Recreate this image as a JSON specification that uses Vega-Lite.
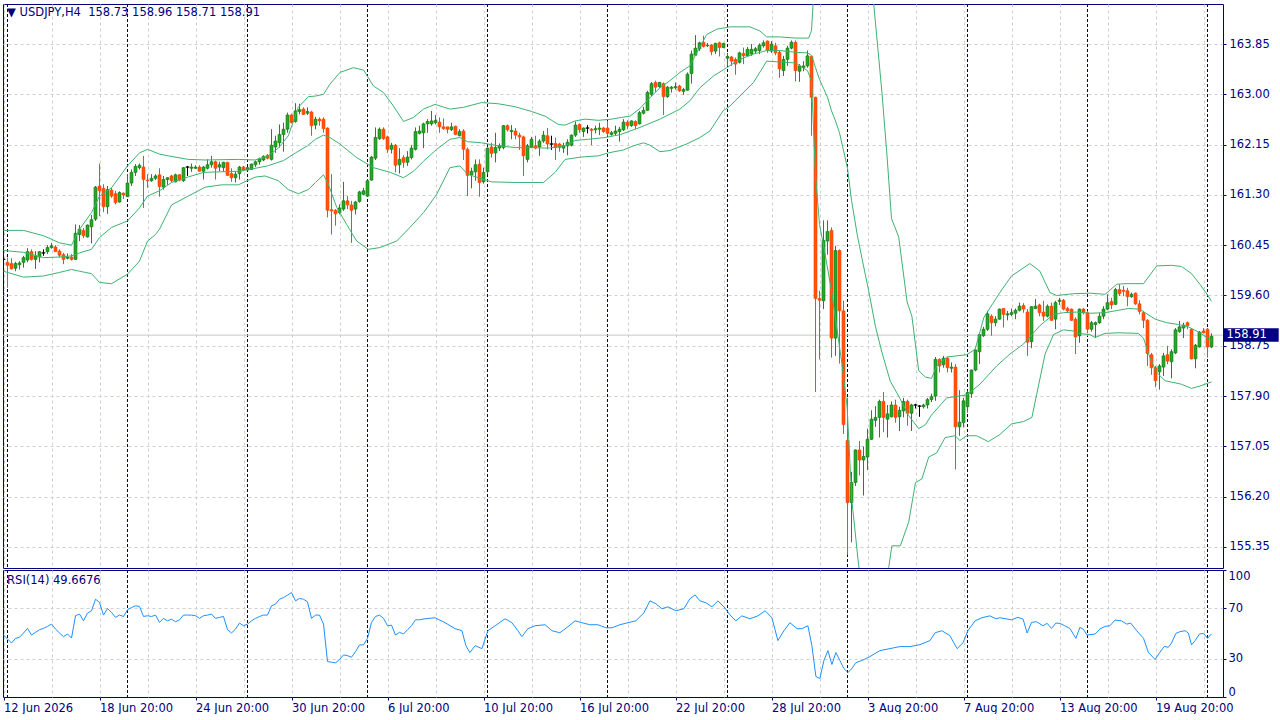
{
  "$schema": "https://vega.github.io/schema/vega-lite/v6.json",
  "background": "white",
  "padding": {"left": 1, "top": 3, "right": 0, "bottom": 0},
  "spacing": 2,
  "bounds": "flush",
  "datasets": {
    "c": [
      {"k":0,"o":160.21,"h":160.25,"l":160.17,"c":160.21},
      {"k":1,"o":160.16,"h":160.24,"l":159.73,"c":160.11},
      {"k":2,"o":160.14,"h":160.23,"l":160.04,"c":160.05},
      {"k":3,"o":160.06,"h":160.17,"l":160.01,"c":160.14},
      {"k":4,"o":160.12,"h":160.18,"l":160.04,"c":160.15},
      {"k":5,"o":160.16,"h":160.27,"l":160.07,"c":160.24},
      {"k":6,"o":160.20,"h":160.40,"l":160.16,"c":160.34},
      {"k":7,"o":160.34,"h":160.38,"l":160.19,"c":160.21},
      {"k":8,"o":160.21,"h":160.35,"l":160.05,"c":160.27},
      {"k":9,"o":160.25,"h":160.35,"l":160.16,"c":160.34},
      {"k":10,"o":160.32,"h":160.38,"l":160.27,"c":160.32},
      {"k":11,"o":160.34,"h":160.45,"l":160.30,"c":160.41},
      {"k":12,"o":160.41,"h":160.49,"l":160.39,"c":160.44},
      {"k":13,"o":160.42,"h":160.45,"l":160.34,"c":160.34},
      {"k":14,"o":160.35,"h":160.38,"l":160.24,"c":160.28},
      {"k":15,"o":160.29,"h":160.32,"l":160.13,"c":160.21},
      {"k":16,"o":160.23,"h":160.31,"l":160.21,"c":160.25},
      {"k":17,"o":160.25,"h":160.30,"l":160.19,"c":160.21},
      {"k":18,"o":160.21,"h":160.80,"l":160.20,"c":160.65},
      {"k":19,"o":160.63,"h":160.79,"l":160.52,"c":160.72},
      {"k":20,"o":160.70,"h":160.74,"l":160.57,"c":160.61},
      {"k":21,"o":160.59,"h":160.80,"l":160.58,"c":160.79},
      {"k":22,"o":160.76,"h":160.96,"l":160.48,"c":160.88},
      {"k":23,"o":160.89,"h":161.45,"l":160.86,"c":161.43},
      {"k":24,"o":161.45,"h":161.83,"l":160.94,"c":161.37},
      {"k":25,"o":161.41,"h":161.48,"l":161.01,"c":161.10},
      {"k":26,"o":161.10,"h":161.45,"l":160.98,"c":161.39},
      {"k":27,"o":161.38,"h":161.42,"l":161.25,"c":161.28},
      {"k":28,"o":161.32,"h":161.37,"l":161.14,"c":161.17},
      {"k":29,"o":161.18,"h":161.36,"l":161.17,"c":161.34},
      {"k":30,"o":161.33,"h":161.34,"l":161.23,"c":161.30},
      {"k":31,"o":161.27,"h":161.65,"l":161.27,"c":161.50},
      {"k":32,"o":161.50,"h":161.73,"l":161.45,"c":161.68},
      {"k":33,"o":161.68,"h":161.82,"l":161.62,"c":161.78},
      {"k":34,"o":161.76,"h":161.83,"l":161.73,"c":161.80},
      {"k":35,"o":161.77,"h":161.96,"l":161.08,"c":161.56},
      {"k":36,"o":161.55,"h":161.65,"l":161.42,"c":161.54},
      {"k":37,"o":161.54,"h":161.65,"l":161.52,"c":161.58},
      {"k":38,"o":161.58,"h":161.65,"l":161.55,"c":161.62},
      {"k":39,"o":161.64,"h":161.75,"l":161.27,"c":161.44},
      {"k":40,"o":161.43,"h":161.62,"l":161.39,"c":161.56},
      {"k":41,"o":161.56,"h":161.60,"l":161.47,"c":161.59},
      {"k":42,"o":161.62,"h":161.64,"l":161.51,"c":161.54},
      {"k":43,"o":161.52,"h":161.66,"l":161.51,"c":161.64},
      {"k":44,"o":161.64,"h":161.65,"l":161.53,"c":161.55},
      {"k":45,"o":161.54,"h":161.77,"l":161.52,"c":161.76},
      {"k":46,"o":161.77,"h":161.79,"l":161.62,"c":161.77},
      {"k":47,"o":161.75,"h":161.83,"l":161.69,"c":161.77},
      {"k":48,"o":161.75,"h":161.80,"l":161.74,"c":161.77},
      {"k":49,"o":161.77,"h":161.80,"l":161.69,"c":161.70},
      {"k":50,"o":161.70,"h":161.79,"l":161.56,"c":161.77},
      {"k":51,"o":161.75,"h":161.90,"l":161.73,"c":161.81},
      {"k":52,"o":161.81,"h":161.96,"l":161.76,"c":161.86},
      {"k":53,"o":161.86,"h":161.88,"l":161.56,"c":161.75},
      {"k":54,"o":161.77,"h":161.86,"l":161.70,"c":161.81},
      {"k":55,"o":161.76,"h":161.86,"l":161.69,"c":161.85},
      {"k":56,"o":161.85,"h":161.86,"l":161.62,"c":161.63},
      {"k":57,"o":161.66,"h":161.75,"l":161.52,"c":161.59},
      {"k":58,"o":161.59,"h":161.70,"l":161.51,"c":161.65},
      {"k":59,"o":161.66,"h":161.79,"l":161.56,"c":161.77},
      {"k":60,"o":161.77,"h":161.79,"l":161.70,"c":161.72},
      {"k":61,"o":161.72,"h":161.77,"l":161.71,"c":161.76},
      {"k":62,"o":161.73,"h":161.83,"l":161.72,"c":161.82},
      {"k":63,"o":161.81,"h":161.88,"l":161.77,"c":161.86},
      {"k":64,"o":161.86,"h":161.93,"l":161.81,"c":161.91},
      {"k":65,"o":161.89,"h":161.97,"l":161.87,"c":161.95},
      {"k":66,"o":161.97,"h":161.99,"l":161.90,"c":161.92},
      {"k":67,"o":161.90,"h":162.41,"l":161.88,"c":162.14},
      {"k":68,"o":162.11,"h":162.30,"l":162.01,"c":162.21},
      {"k":69,"o":162.18,"h":162.49,"l":162.10,"c":162.32},
      {"k":70,"o":162.32,"h":162.52,"l":162.03,"c":162.41},
      {"k":71,"o":162.41,"h":162.69,"l":162.35,"c":162.65},
      {"k":72,"o":162.65,"h":162.67,"l":162.51,"c":162.52},
      {"k":73,"o":162.54,"h":162.85,"l":162.52,"c":162.72},
      {"k":74,"o":162.71,"h":162.84,"l":162.66,"c":162.74},
      {"k":75,"o":162.75,"h":162.78,"l":162.65,"c":162.66},
      {"k":76,"o":162.68,"h":162.78,"l":162.65,"c":162.71},
      {"k":77,"o":162.70,"h":162.72,"l":162.30,"c":162.47},
      {"k":78,"o":162.48,"h":162.62,"l":162.41,"c":162.58},
      {"k":79,"o":162.58,"h":162.61,"l":162.47,"c":162.55},
      {"k":80,"o":162.58,"h":162.61,"l":162.35,"c":162.42},
      {"k":81,"o":162.43,"h":162.44,"l":160.92,"c":161.04},
      {"k":82,"o":161.05,"h":161.65,"l":160.63,"c":161.03},
      {"k":83,"o":161.04,"h":161.06,"l":160.78,"c":160.98},
      {"k":84,"o":161.00,"h":161.14,"l":160.97,"c":161.08},
      {"k":85,"o":161.06,"h":161.52,"l":161.03,"c":161.20},
      {"k":86,"o":161.20,"h":161.28,"l":161.06,"c":161.13},
      {"k":87,"o":161.13,"h":161.20,"l":160.49,"c":161.04},
      {"k":88,"o":161.06,"h":161.20,"l":160.97,"c":161.18},
      {"k":89,"o":161.19,"h":161.37,"l":161.17,"c":161.35},
      {"k":90,"o":161.31,"h":161.42,"l":161.30,"c":161.37},
      {"k":91,"o":161.28,"h":161.56,"l":161.27,"c":161.54},
      {"k":92,"o":161.55,"h":161.96,"l":161.54,"c":161.94},
      {"k":93,"o":161.92,"h":162.44,"l":161.89,"c":162.27},
      {"k":94,"o":162.25,"h":162.44,"l":162.23,"c":162.41},
      {"k":95,"o":162.41,"h":162.44,"l":162.23,"c":162.25},
      {"k":96,"o":162.28,"h":162.30,"l":162.01,"c":162.07},
      {"k":97,"o":162.07,"h":162.18,"l":162.00,"c":162.14},
      {"k":98,"o":162.14,"h":162.16,"l":161.68,"c":161.80},
      {"k":99,"o":161.81,"h":162.09,"l":161.66,"c":161.90},
      {"k":100,"o":161.93,"h":161.97,"l":161.76,"c":161.85},
      {"k":101,"o":161.85,"h":162.04,"l":161.79,"c":161.94},
      {"k":102,"o":161.93,"h":162.14,"l":161.90,"c":162.09},
      {"k":103,"o":162.07,"h":162.44,"l":162.05,"c":162.37},
      {"k":104,"o":162.34,"h":162.47,"l":162.32,"c":162.38},
      {"k":105,"o":162.35,"h":162.52,"l":162.09,"c":162.50},
      {"k":106,"o":162.50,"h":162.58,"l":162.35,"c":162.54},
      {"k":107,"o":162.50,"h":162.72,"l":162.47,"c":162.55},
      {"k":108,"o":162.52,"h":162.65,"l":162.49,"c":162.56},
      {"k":109,"o":162.53,"h":162.61,"l":162.35,"c":162.45},
      {"k":110,"o":162.45,"h":162.59,"l":162.40,"c":162.42},
      {"k":111,"o":162.45,"h":162.45,"l":162.34,"c":162.41},
      {"k":112,"o":162.40,"h":162.52,"l":162.38,"c":162.45},
      {"k":113,"o":162.46,"h":162.47,"l":162.31,"c":162.32},
      {"k":114,"o":162.30,"h":162.41,"l":162.29,"c":162.37},
      {"k":115,"o":162.38,"h":162.41,"l":161.89,"c":162.07},
      {"k":116,"o":162.07,"h":162.10,"l":161.28,"c":161.63},
      {"k":117,"o":161.64,"h":161.76,"l":161.41,"c":161.70},
      {"k":118,"o":161.69,"h":161.90,"l":161.54,"c":161.81},
      {"k":119,"o":161.82,"h":161.90,"l":161.27,"c":161.51},
      {"k":120,"o":161.52,"h":161.76,"l":161.49,"c":161.68},
      {"k":121,"o":161.69,"h":162.10,"l":161.65,"c":162.09},
      {"k":122,"o":162.11,"h":162.18,"l":161.93,"c":162.00},
      {"k":123,"o":162.01,"h":162.35,"l":161.85,"c":162.10},
      {"k":124,"o":162.09,"h":162.17,"l":162.04,"c":162.13},
      {"k":125,"o":162.10,"h":162.48,"l":162.07,"c":162.47},
      {"k":126,"o":162.47,"h":162.49,"l":162.37,"c":162.40},
      {"k":127,"o":162.37,"h":162.48,"l":162.24,"c":162.39},
      {"k":128,"o":162.38,"h":162.43,"l":162.24,"c":162.31},
      {"k":129,"o":162.31,"h":162.35,"l":162.06,"c":162.28},
      {"k":130,"o":162.28,"h":162.30,"l":161.62,"c":161.96},
      {"k":131,"o":161.90,"h":162.16,"l":161.85,"c":162.13},
      {"k":132,"o":162.11,"h":162.28,"l":162.09,"c":162.24},
      {"k":133,"o":162.13,"h":162.30,"l":162.07,"c":162.09},
      {"k":134,"o":162.11,"h":162.24,"l":161.96,"c":162.21},
      {"k":135,"o":162.21,"h":162.38,"l":162.18,"c":162.31},
      {"k":136,"o":162.30,"h":162.43,"l":162.07,"c":162.16},
      {"k":137,"o":162.16,"h":162.30,"l":162.06,"c":162.16},
      {"k":138,"o":162.17,"h":162.27,"l":161.89,"c":162.10},
      {"k":139,"o":162.16,"h":162.18,"l":162.03,"c":162.10},
      {"k":140,"o":162.09,"h":162.18,"l":162.01,"c":162.13},
      {"k":141,"o":162.13,"h":162.24,"l":161.97,"c":162.19},
      {"k":142,"o":162.14,"h":162.32,"l":162.12,"c":162.31},
      {"k":143,"o":162.31,"h":162.54,"l":162.28,"c":162.48},
      {"k":144,"o":162.49,"h":162.51,"l":162.35,"c":162.40},
      {"k":145,"o":162.37,"h":162.44,"l":162.28,"c":162.43},
      {"k":146,"o":162.43,"h":162.48,"l":162.34,"c":162.43},
      {"k":147,"o":162.41,"h":162.43,"l":162.14,"c":162.39},
      {"k":148,"o":162.40,"h":162.47,"l":162.34,"c":162.42},
      {"k":149,"o":162.41,"h":162.52,"l":162.31,"c":162.43},
      {"k":150,"o":162.43,"h":162.45,"l":162.35,"c":162.37},
      {"k":151,"o":162.43,"h":162.55,"l":162.30,"c":162.34},
      {"k":152,"o":162.32,"h":162.38,"l":162.30,"c":162.35},
      {"k":153,"o":162.34,"h":162.47,"l":162.30,"c":162.38},
      {"k":154,"o":162.37,"h":162.45,"l":162.20,"c":162.41},
      {"k":155,"o":162.40,"h":162.58,"l":162.38,"c":162.53},
      {"k":156,"o":162.53,"h":162.56,"l":162.41,"c":162.47},
      {"k":157,"o":162.47,"h":162.56,"l":162.45,"c":162.55},
      {"k":158,"o":162.54,"h":162.56,"l":162.41,"c":162.47},
      {"k":159,"o":162.50,"h":162.72,"l":162.49,"c":162.69},
      {"k":160,"o":162.68,"h":162.79,"l":162.66,"c":162.73},
      {"k":161,"o":162.73,"h":163.06,"l":162.72,"c":163.03},
      {"k":162,"o":163.00,"h":163.21,"l":162.97,"c":163.18},
      {"k":163,"o":163.20,"h":163.23,"l":163.04,"c":163.12},
      {"k":164,"o":163.13,"h":163.21,"l":163.11,"c":163.20},
      {"k":165,"o":163.18,"h":163.20,"l":162.65,"c":162.96},
      {"k":166,"o":162.96,"h":163.14,"l":162.94,"c":163.12},
      {"k":167,"o":163.10,"h":163.14,"l":163.03,"c":163.12},
      {"k":168,"o":163.11,"h":163.20,"l":163.08,"c":163.13},
      {"k":169,"o":163.14,"h":163.16,"l":163.04,"c":163.06},
      {"k":170,"o":163.05,"h":163.11,"l":162.99,"c":163.08},
      {"k":171,"o":163.07,"h":163.37,"l":163.06,"c":163.34},
      {"k":172,"o":163.35,"h":163.74,"l":163.18,"c":163.68},
      {"k":173,"o":163.66,"h":164.00,"l":163.66,"c":163.78},
      {"k":174,"o":163.77,"h":163.89,"l":163.73,"c":163.87},
      {"k":175,"o":163.88,"h":163.99,"l":163.79,"c":163.81},
      {"k":176,"o":163.82,"h":163.87,"l":163.80,"c":163.83},
      {"k":177,"o":163.83,"h":163.85,"l":163.66,"c":163.72},
      {"k":178,"o":163.73,"h":163.87,"l":163.68,"c":163.86},
      {"k":179,"o":163.87,"h":163.89,"l":163.64,"c":163.79},
      {"k":180,"o":163.79,"h":163.87,"l":163.78,"c":163.86},
      {"k":181,"o":163.61,"h":163.70,"l":163.48,"c":163.64},
      {"k":182,"o":163.63,"h":163.65,"l":163.48,"c":163.56},
      {"k":183,"o":163.59,"h":163.62,"l":163.33,"c":163.51},
      {"k":184,"o":163.54,"h":163.72,"l":163.52,"c":163.70},
      {"k":185,"o":163.69,"h":163.79,"l":163.51,"c":163.65},
      {"k":186,"o":163.65,"h":163.80,"l":163.65,"c":163.76},
      {"k":187,"o":163.68,"h":163.85,"l":163.65,"c":163.76},
      {"k":188,"o":163.73,"h":163.80,"l":163.68,"c":163.77},
      {"k":189,"o":163.74,"h":163.86,"l":163.68,"c":163.83},
      {"k":190,"o":163.82,"h":163.91,"l":163.79,"c":163.87},
      {"k":191,"o":163.90,"h":163.91,"l":163.70,"c":163.74},
      {"k":192,"o":163.73,"h":163.90,"l":163.70,"c":163.85},
      {"k":193,"o":163.82,"h":163.87,"l":163.66,"c":163.70},
      {"k":194,"o":163.71,"h":163.74,"l":163.28,"c":163.43},
      {"k":195,"o":163.40,"h":163.65,"l":163.31,"c":163.59},
      {"k":196,"o":163.59,"h":163.82,"l":163.48,"c":163.78},
      {"k":197,"o":163.78,"h":163.91,"l":163.76,"c":163.88},
      {"k":198,"o":163.88,"h":163.91,"l":163.22,"c":163.40},
      {"k":199,"o":163.39,"h":163.51,"l":163.21,"c":163.48},
      {"k":200,"o":163.45,"h":163.56,"l":163.39,"c":163.48},
      {"k":201,"o":163.48,"h":163.74,"l":163.45,"c":163.65},
      {"k":202,"o":163.64,"h":163.65,"l":162.30,"c":162.95},
      {"k":203,"o":162.95,"h":162.96,"l":157.97,"c":159.55},
      {"k":204,"o":159.55,"h":159.68,"l":158.52,"c":159.52},
      {"k":205,"o":159.51,"h":160.87,"l":159.37,"c":160.53},
      {"k":206,"o":160.52,"h":160.87,"l":160.29,"c":160.68},
      {"k":207,"o":160.70,"h":160.75,"l":158.55,"c":158.88},
      {"k":208,"o":158.88,"h":160.44,"l":158.58,"c":160.36},
      {"k":209,"o":160.36,"h":160.38,"l":158.45,"c":159.34},
      {"k":210,"o":159.34,"h":159.51,"l":157.26,"c":157.42},
      {"k":211,"o":157.15,"h":157.87,"l":155.22,"c":156.10},
      {"k":212,"o":156.10,"h":156.62,"l":155.43,"c":156.44},
      {"k":213,"o":156.44,"h":157.00,"l":156.38,"c":156.99},
      {"k":214,"o":156.99,"h":157.14,"l":156.56,"c":156.82},
      {"k":215,"o":156.82,"h":157.05,"l":156.22,"c":156.88},
      {"k":216,"o":156.87,"h":157.35,"l":156.65,"c":157.17},
      {"k":217,"o":157.17,"h":157.66,"l":157.16,"c":157.51},
      {"k":218,"o":157.49,"h":157.73,"l":157.38,"c":157.54},
      {"k":219,"o":157.54,"h":157.84,"l":157.20,"c":157.81},
      {"k":220,"o":157.81,"h":157.97,"l":157.29,"c":157.54},
      {"k":221,"o":157.51,"h":157.75,"l":157.20,"c":157.60},
      {"k":222,"o":157.55,"h":157.81,"l":157.54,"c":157.75},
      {"k":223,"o":157.75,"h":157.84,"l":157.45,"c":157.54},
      {"k":224,"o":157.55,"h":157.72,"l":157.31,"c":157.66},
      {"k":225,"o":157.65,"h":157.87,"l":157.54,"c":157.81},
      {"k":226,"o":157.81,"h":157.84,"l":157.40,"c":157.61},
      {"k":227,"o":157.61,"h":157.77,"l":157.31,"c":157.75},
      {"k":228,"o":157.75,"h":157.77,"l":157.69,"c":157.75},
      {"k":229,"o":157.73,"h":157.75,"l":157.55,"c":157.73},
      {"k":230,"o":157.72,"h":157.77,"l":157.69,"c":157.75},
      {"k":231,"o":157.75,"h":157.87,"l":157.69,"c":157.84},
      {"k":232,"o":157.84,"h":157.94,"l":157.80,"c":157.89},
      {"k":233,"o":157.90,"h":158.56,"l":157.82,"c":158.52},
      {"k":234,"o":158.52,"h":158.54,"l":158.30,"c":158.41},
      {"k":235,"o":158.43,"h":158.58,"l":158.38,"c":158.54},
      {"k":236,"o":158.54,"h":158.56,"l":158.30,"c":158.38},
      {"k":237,"o":158.37,"h":158.47,"l":158.30,"c":158.39},
      {"k":238,"o":158.39,"h":158.44,"l":156.66,"c":157.38},
      {"k":239,"o":157.38,"h":158.00,"l":157.23,"c":157.46},
      {"k":240,"o":157.45,"h":157.87,"l":157.37,"c":157.82},
      {"k":241,"o":157.72,"h":157.99,"l":157.62,"c":157.96},
      {"k":242,"o":157.94,"h":158.35,"l":157.87,"c":158.34},
      {"k":243,"o":158.34,"h":158.69,"l":158.32,"c":158.68},
      {"k":244,"o":158.65,"h":158.97,"l":158.44,"c":158.94},
      {"k":245,"o":158.92,"h":159.07,"l":158.90,"c":159.03},
      {"k":246,"o":159.03,"h":159.34,"l":159.00,"c":159.29},
      {"k":247,"o":159.25,"h":159.28,"l":158.92,"c":159.14},
      {"k":248,"o":159.14,"h":159.25,"l":159.08,"c":159.20},
      {"k":249,"o":159.20,"h":159.38,"l":159.19,"c":159.37},
      {"k":250,"o":159.38,"h":159.39,"l":159.06,"c":159.28},
      {"k":251,"o":159.27,"h":159.34,"l":159.18,"c":159.29},
      {"k":252,"o":159.28,"h":159.38,"l":159.25,"c":159.31},
      {"k":253,"o":159.30,"h":159.38,"l":159.20,"c":159.35},
      {"k":254,"o":159.35,"h":159.48,"l":159.33,"c":159.42},
      {"k":255,"o":159.43,"h":159.47,"l":159.31,"c":159.37},
      {"k":256,"o":159.32,"h":159.37,"l":158.58,"c":158.81},
      {"k":257,"o":158.82,"h":159.42,"l":158.71,"c":159.41},
      {"k":258,"o":159.38,"h":159.54,"l":159.37,"c":159.42},
      {"k":259,"o":159.44,"h":159.46,"l":159.25,"c":159.31},
      {"k":260,"o":159.32,"h":159.51,"l":159.17,"c":159.25},
      {"k":261,"o":159.25,"h":159.45,"l":159.23,"c":159.42},
      {"k":262,"o":159.42,"h":159.48,"l":159.17,"c":159.18},
      {"k":263,"o":159.20,"h":159.51,"l":159.03,"c":159.48},
      {"k":264,"o":159.50,"h":159.56,"l":159.44,"c":159.52},
      {"k":265,"o":159.52,"h":159.54,"l":159.35,"c":159.37},
      {"k":266,"o":159.38,"h":159.41,"l":159.31,"c":159.34},
      {"k":267,"o":159.37,"h":159.38,"l":159.17,"c":159.18},
      {"k":268,"o":159.20,"h":159.23,"l":158.61,"c":158.90},
      {"k":269,"o":158.92,"h":159.38,"l":158.80,"c":159.37},
      {"k":270,"o":159.37,"h":159.39,"l":159.28,"c":159.31},
      {"k":271,"o":159.31,"h":159.34,"l":158.96,"c":159.03},
      {"k":272,"o":159.03,"h":159.17,"l":158.99,"c":159.14},
      {"k":273,"o":159.11,"h":159.16,"l":158.88,"c":159.14},
      {"k":274,"o":159.14,"h":159.31,"l":159.12,"c":159.25},
      {"k":275,"o":159.25,"h":159.42,"l":159.20,"c":159.37},
      {"k":276,"o":159.37,"h":159.62,"l":159.35,"c":159.48},
      {"k":277,"o":159.50,"h":159.56,"l":159.37,"c":159.44},
      {"k":278,"o":159.45,"h":159.73,"l":159.44,"c":159.70},
      {"k":279,"o":159.70,"h":159.79,"l":159.59,"c":159.63},
      {"k":280,"o":159.69,"h":159.76,"l":159.59,"c":159.67},
      {"k":281,"o":159.68,"h":159.73,"l":159.42,"c":159.58},
      {"k":282,"o":159.58,"h":159.65,"l":159.56,"c":159.62},
      {"k":283,"o":159.64,"h":159.65,"l":159.44,"c":159.46},
      {"k":284,"o":159.46,"h":159.52,"l":159.28,"c":159.33},
      {"k":285,"o":159.31,"h":159.34,"l":159.05,"c":159.18},
      {"k":286,"o":159.18,"h":159.20,"l":158.41,"c":158.62},
      {"k":287,"o":158.60,"h":158.63,"l":158.26,"c":158.38},
      {"k":288,"o":158.38,"h":158.41,"l":158.05,"c":158.16},
      {"k":289,"o":158.31,"h":158.44,"l":158.01,"c":158.41},
      {"k":290,"o":158.39,"h":158.63,"l":158.24,"c":158.58},
      {"k":291,"o":158.60,"h":158.75,"l":158.44,"c":158.49},
      {"k":292,"o":158.48,"h":158.69,"l":158.20,"c":158.65},
      {"k":293,"o":158.63,"h":159.05,"l":158.61,"c":159.02},
      {"k":294,"o":158.99,"h":159.17,"l":158.97,"c":159.07},
      {"k":295,"o":159.05,"h":159.14,"l":158.88,"c":159.10},
      {"k":296,"o":159.14,"h":159.16,"l":159.03,"c":159.09},
      {"k":297,"o":159.03,"h":159.05,"l":158.52,"c":158.53},
      {"k":298,"o":158.53,"h":158.78,"l":158.37,"c":158.76},
      {"k":299,"o":158.73,"h":159.00,"l":158.72,"c":158.98},
      {"k":300,"o":159.00,"h":159.05,"l":158.96,"c":158.97},
      {"k":301,"o":159.03,"h":159.05,"l":158.55,"c":158.73},
      {"k":302,"o":158.73,"h":158.96,"l":158.71,"c":158.91}
    ],
    "b": [
      {"g":"u","k":0,"v":160.70},{"g":"u","k":5,"v":160.70},{"g":"u","k":10,"v":160.61},{"g":"u","k":14,"v":160.49},
      {"g":"u","k":17,"v":160.45},{"g":"u","k":19,"v":160.72},{"g":"u","k":22,"v":161.00},{"g":"u","k":24,"v":161.28},
      {"g":"u","k":27,"v":161.42},{"g":"u","k":31,"v":161.79},{"g":"u","k":34,"v":162.01},{"g":"u","k":36,"v":162.07},
      {"g":"u","k":39,"v":161.99},{"g":"u","k":41.2,"v":161.96},{"g":"u","k":46.2,"v":161.90},{"g":"u","k":50.4,"v":161.89},
      {"g":"u","k":58.7,"v":161.90},{"g":"u","k":62.9,"v":161.89},{"g":"u","k":66.2,"v":161.96},{"g":"u","k":68.7,"v":162.09},
      {"g":"u","k":71.2,"v":162.30},{"g":"u","k":73.7,"v":162.78},{"g":"u","k":76.2,"v":162.96},{"g":"u","k":78,"v":162.97},
      {"g":"u","k":80,"v":163.00},{"g":"u","k":81.6,"v":163.17},{"g":"u","k":84.1,"v":163.37},{"g":"u","k":87.5,"v":163.45},
      {"g":"u","k":90,"v":163.41},{"g":"u","k":92.5,"v":163.14},{"g":"u","k":95,"v":163.03},{"g":"u","k":97.5,"v":162.80},
      {"g":"u","k":100,"v":162.54},{"g":"u","k":102.5,"v":162.61},{"g":"u","k":105,"v":162.75},{"g":"u","k":107.9,"v":162.83},
      {"g":"u","k":111.6,"v":162.75},{"g":"u","k":115,"v":162.78},{"g":"u","k":119.5,"v":162.86},{"g":"u","k":123.7,"v":162.84},
      {"g":"u","k":127.9,"v":162.79},{"g":"u","k":132,"v":162.71},{"g":"u","k":135.4,"v":162.63},{"g":"u","k":138.7,"v":162.49},
      {"g":"u","k":140.4,"v":162.48},{"g":"u","k":142.9,"v":162.55},{"g":"u","k":145.4,"v":162.58},{"g":"u","k":148.7,"v":162.56},
      {"g":"u","k":152,"v":162.58},{"g":"u","k":154.5,"v":162.61},{"g":"u","k":156.6,"v":162.63},{"g":"u","k":159.1,"v":162.76},
      {"g":"u","k":161.6,"v":162.94},{"g":"u","k":164.1,"v":163.11},{"g":"u","k":166.6,"v":163.23},{"g":"u","k":169.1,"v":163.37},
      {"g":"u","k":171.6,"v":163.48},{"g":"u","k":173.3,"v":163.70},{"g":"u","k":175.8,"v":164.01},{"g":"u","k":178.3,"v":164.10},
      {"g":"u","k":181.6,"v":164.14},{"g":"u","k":186.6,"v":164.14},{"g":"u","k":189.1,"v":164.07},{"g":"u","k":190.8,"v":163.97},
      {"g":"u","k":194,"v":163.97},{"g":"u","k":198,"v":163.95},{"g":"u","k":201.3,"v":163.95},{"g":"u","k":202,"v":164.08},
      {"g":"u","k":203,"v":165.2},{"g":"u","k":205,"v":165.9},{"g":"u","k":207,"v":166.1},{"g":"u","k":209,"v":166.2},
      {"g":"u","k":211,"v":166.5},{"g":"u","k":213,"v":166.4},{"g":"u","k":215,"v":165.8},{"g":"u","k":216.5,"v":165.2},
      {"g":"u","k":217.5,"v":164.57},{"g":"u","k":218,"v":164.20},{"g":"u","k":219.6,"v":163.04},{"g":"u","k":220.9,"v":161.94},
      {"g":"u","k":222,"v":160.90},{"g":"u","k":223.8,"v":160.59},{"g":"u","k":225.9,"v":159.49},{"g":"u","k":227.1,"v":159.25},
      {"g":"u","k":228.8,"v":158.33},{"g":"u","k":230.5,"v":158.22},{"g":"u","k":232,"v":158.20},{"g":"u","k":233.3,"v":158.41},
      {"g":"u","k":235.8,"v":158.56},{"g":"u","k":240.8,"v":158.60},{"g":"u","k":242.9,"v":158.69},{"g":"u","k":245.1,"v":159.23},
      {"g":"u","k":249.1,"v":159.65},{"g":"u","k":252,"v":159.93},{"g":"u","k":256.6,"v":160.14},{"g":"u","k":259.1,"v":160.01},
      {"g":"u","k":261.6,"v":159.65},{"g":"u","k":263.3,"v":159.60},{"g":"u","k":267.5,"v":159.63},{"g":"u","k":271.6,"v":159.64},
      {"g":"u","k":275.4,"v":159.62},{"g":"u","k":278.3,"v":159.79},{"g":"u","k":280.4,"v":159.80},{"g":"u","k":285,"v":159.80},
      {"g":"u","k":288.3,"v":160.10},{"g":"u","k":292,"v":160.11},{"g":"u","k":294.5,"v":160.09},{"g":"u","k":297,"v":159.97},
      {"g":"u","k":299.1,"v":159.79},{"g":"u","k":301.2,"v":159.59},{"g":"u","k":302,"v":159.50},
      {"g":"m","k":0,"v":160.36},{"g":"m","k":5,"v":160.33},{"g":"m","k":10,"v":160.24},{"g":"m","k":14,"v":160.25},
      {"g":"m","k":17,"v":160.27},{"g":"m","k":19,"v":160.32},{"g":"m","k":22,"v":160.38},{"g":"m","k":24,"v":160.58},
      {"g":"m","k":27,"v":160.75},{"g":"m","k":31,"v":160.86},{"g":"m","k":34,"v":161.08},{"g":"m","k":36,"v":161.28},
      {"g":"m","k":39,"v":161.37},{"g":"m","k":42,"v":161.51},{"g":"m","k":46,"v":161.60},{"g":"m","k":50,"v":161.68},
      {"g":"m","k":54,"v":161.69},{"g":"m","k":59,"v":161.70},{"g":"m","k":63,"v":161.75},{"g":"m","k":66,"v":161.79},
      {"g":"m","k":70,"v":161.88},{"g":"m","k":73,"v":162.01},{"g":"m","k":76,"v":162.13},{"g":"m","k":78,"v":162.24},
      {"g":"m","k":80,"v":162.31},{"g":"m","k":81.6,"v":162.27},{"g":"m","k":84.1,"v":162.16},{"g":"m","k":88.3,"v":161.93},
      {"g":"m","k":92.5,"v":161.76},{"g":"m","k":96.7,"v":161.68},{"g":"m","k":100,"v":161.59},{"g":"m","k":102.5,"v":161.70},
      {"g":"m","k":105,"v":161.87},{"g":"m","k":108.3,"v":162.07},{"g":"m","k":111.6,"v":162.24},{"g":"m","k":114.1,"v":162.27},
      {"g":"m","k":116,"v":162.20},{"g":"m","k":119.5,"v":162.18},{"g":"m","k":123.7,"v":162.13},{"g":"m","k":127.9,"v":162.10},
      {"g":"m","k":132,"v":162.10},{"g":"m","k":136.2,"v":162.09},{"g":"m","k":140.4,"v":162.13},{"g":"m","k":142.9,"v":162.22},
      {"g":"m","k":146.2,"v":162.24},{"g":"m","k":150.4,"v":162.27},{"g":"m","k":154.3,"v":162.32},{"g":"m","k":159.1,"v":162.44},
      {"g":"m","k":164.1,"v":162.58},{"g":"m","k":169.1,"v":162.75},{"g":"m","k":171.6,"v":162.89},{"g":"m","k":174.1,"v":163.11},
      {"g":"m","k":177.5,"v":163.31},{"g":"m","k":180.8,"v":163.45},{"g":"m","k":184.1,"v":163.59},{"g":"m","k":187.5,"v":163.68},
      {"g":"m","k":190.8,"v":163.74},{"g":"m","k":194,"v":163.74},{"g":"m","k":198,"v":163.71},{"g":"m","k":201,"v":163.70},
      {"g":"m","k":202,"v":163.66},{"g":"m","k":203,"v":163.45},{"g":"m","k":204,"v":163.25},{"g":"m","k":205,"v":163.10},
      {"g":"m","k":206,"v":162.95},{"g":"m","k":207,"v":162.72},{"g":"m","k":208,"v":162.55},{"g":"m","k":209,"v":162.35},
      {"g":"m","k":210,"v":162.05},{"g":"m","k":211,"v":161.75},{"g":"m","k":212,"v":161.21},{"g":"m","k":213.5,"v":160.60},
      {"g":"m","k":215,"v":160.10},{"g":"m","k":216.3,"v":159.68},{"g":"m","k":218,"v":159.07},{"g":"m","k":219.6,"v":158.64},
      {"g":"m","k":221.7,"v":158.15},{"g":"m","k":223.8,"v":157.90},{"g":"m","k":226.3,"v":157.57},{"g":"m","k":228.8,"v":157.35},
      {"g":"m","k":230.5,"v":157.42},{"g":"m","k":232,"v":157.58},{"g":"m","k":235.8,"v":157.87},{"g":"m","k":240.8,"v":157.92},
      {"g":"m","k":244.1,"v":158.10},{"g":"m","k":248.3,"v":158.41},{"g":"m","k":251.6,"v":158.61},{"g":"m","k":255,"v":158.78},
      {"g":"m","k":259.1,"v":159.09},{"g":"m","k":262.5,"v":159.28},{"g":"m","k":265,"v":159.31},{"g":"m","k":268.3,"v":159.32},
      {"g":"m","k":271.6,"v":159.30},{"g":"m","k":275.4,"v":159.31},{"g":"m","k":278.7,"v":159.35},{"g":"m","k":281.2,"v":159.38},
      {"g":"m","k":284.1,"v":159.37},{"g":"m","k":285.4,"v":159.31},{"g":"m","k":287.9,"v":159.20},{"g":"m","k":290.8,"v":159.14},
      {"g":"m","k":293.7,"v":159.11},{"g":"m","k":296.2,"v":159.07},{"g":"m","k":299.1,"v":158.97},{"g":"m","k":302,"v":158.84},
      {"g":"l","k":0,"v":160.01},{"g":"l","k":5,"v":159.91},{"g":"l","k":10,"v":159.93},{"g":"l","k":14,"v":159.99},
      {"g":"l","k":17,"v":160.04},{"g":"l","k":19,"v":160.01},{"g":"l","k":22,"v":159.97},{"g":"l","k":24,"v":159.82},
      {"g":"l","k":27,"v":159.80},{"g":"l","k":31,"v":159.96},{"g":"l","k":34,"v":160.18},{"g":"l","k":36,"v":160.52},
      {"g":"l","k":38,"v":160.63},{"g":"l","k":39,"v":160.72},{"g":"l","k":42,"v":161.13},{"g":"l","k":46.2,"v":161.28},
      {"g":"l","k":50.4,"v":161.43},{"g":"l","k":54.5,"v":161.47},{"g":"l","k":58.7,"v":161.47},{"g":"l","k":62.9,"v":161.60},
      {"g":"l","k":65.4,"v":161.62},{"g":"l","k":68.7,"v":161.54},{"g":"l","k":71.2,"v":161.39},{"g":"l","k":73.7,"v":161.32},
      {"g":"l","k":76.2,"v":161.39},{"g":"l","k":78,"v":161.51},{"g":"l","k":80,"v":161.64},{"g":"l","k":81.2,"v":161.48},
      {"g":"l","k":83.3,"v":161.09},{"g":"l","k":85.8,"v":160.80},{"g":"l","k":88.3,"v":160.52},{"g":"l","k":91.2,"v":160.38},
      {"g":"l","k":94.1,"v":160.41},{"g":"l","k":98.3,"v":160.52},{"g":"l","k":101.6,"v":160.75},{"g":"l","k":105,"v":161.00},
      {"g":"l","k":108.3,"v":161.31},{"g":"l","k":111.6,"v":161.76},{"g":"l","k":114.1,"v":161.79},{"g":"l","k":116,"v":161.65},
      {"g":"l","k":122,"v":161.52},{"g":"l","k":127.9,"v":161.51},{"g":"l","k":135,"v":161.51},{"g":"l","k":137.9,"v":161.68},
      {"g":"l","k":140.4,"v":161.90},{"g":"l","k":144.5,"v":161.94},{"g":"l","k":148.7,"v":161.96},{"g":"l","k":151.2,"v":162.01},
      {"g":"l","k":155,"v":162.06},{"g":"l","k":157.5,"v":162.13},{"g":"l","k":160,"v":162.18},{"g":"l","k":161.6,"v":162.14},
      {"g":"l","k":164.1,"v":162.03},{"g":"l","k":166.6,"v":162.05},{"g":"l","k":170.8,"v":162.16},{"g":"l","k":174.1,"v":162.27},
      {"g":"l","k":176.6,"v":162.38},{"g":"l","k":179.9,"v":162.72},{"g":"l","k":181.6,"v":162.80},{"g":"l","k":184.1,"v":162.97},
      {"g":"l","k":187.5,"v":163.20},{"g":"l","k":190.8,"v":163.56},{"g":"l","k":193.3,"v":163.55},{"g":"l","k":198,"v":163.53},
      {"g":"l","k":201,"v":163.40},{"g":"l","k":202,"v":163.22},{"g":"l","k":203,"v":161.63},{"g":"l","k":204,"v":160.80},
      {"g":"l","k":205,"v":160.45},{"g":"l","k":207,"v":159.68},{"g":"l","k":209.6,"v":158.45},{"g":"l","k":210.9,"v":157.72},
      {"g":"l","k":212.1,"v":156.13},{"g":"l","k":213.8,"v":155.03},{"g":"l","k":215,"v":154.6},{"g":"l","k":217,"v":154.3},
      {"g":"l","k":219,"v":154.4},{"g":"l","k":220.5,"v":154.8},{"g":"l","k":221.3,"v":155.00},{"g":"l","k":222.1,"v":155.37},
      {"g":"l","k":224.2,"v":155.37},{"g":"l","k":226.3,"v":155.77},{"g":"l","k":228,"v":156.44},{"g":"l","k":229.6,"v":156.50},
      {"g":"l","k":231.3,"v":156.87},{"g":"l","k":233.3,"v":156.94},{"g":"l","k":235.4,"v":157.20},{"g":"l","k":237.9,"v":157.23},
      {"g":"l","k":239.1,"v":157.15},{"g":"l","k":240.8,"v":157.23},{"g":"l","k":243.3,"v":157.23},{"g":"l","k":246.2,"v":157.13},
      {"g":"l","k":249.1,"v":157.25},{"g":"l","k":252,"v":157.43},{"g":"l","k":255,"v":157.47},{"g":"l","k":257.1,"v":157.54},
      {"g":"l","k":258.3,"v":157.93},{"g":"l","k":260.4,"v":158.61},{"g":"l","k":262.5,"v":158.94},{"g":"l","k":265,"v":159.02},
      {"g":"l","k":267.5,"v":159.00},{"g":"l","k":268.3,"v":158.96},{"g":"l","k":271.6,"v":158.94},{"g":"l","k":272.9,"v":158.89},
      {"g":"l","k":275.4,"v":158.96},{"g":"l","k":278.7,"v":158.97},{"g":"l","k":283.7,"v":158.96},{"g":"l","k":285,"v":158.88},
      {"g":"l","k":286.6,"v":158.55},{"g":"l","k":288.3,"v":158.30},{"g":"l","k":290.4,"v":158.16},{"g":"l","k":294.5,"v":158.10},
      {"g":"l","k":297,"v":158.03},{"g":"l","k":299.1,"v":158.07},{"g":"l","k":302,"v":158.14}
    ],
    "r": [
      {"k":0,"r":48.8},{"k":1,"r":45.7},{"k":2,"r":42.5},{"k":3,"r":46.2},{"k":4,"r":47.0},{"k":5,"r":50.4},
      {"k":6,"r":54.0},{"k":7,"r":48.8},{"k":8,"r":50.9},{"k":9,"r":53.0},{"k":10,"r":54.0},{"k":11,"r":55.6},
      {"k":12,"r":57.4},{"k":13,"r":53.5},{"k":14,"r":50.4},{"k":15,"r":47.5},{"k":16,"r":49.6},{"k":17,"r":46.4},
      {"k":18,"r":64.0},{"k":19,"r":65.3},{"k":20,"r":60.0},{"k":21,"r":66.1},{"k":22,"r":67.9},{"k":23,"r":77.0},
      {"k":24,"r":74.4},{"k":25,"r":64.5},{"k":26,"r":69.7},{"k":27,"r":66.6},{"k":28,"r":62.7},{"k":29,"r":64.5},
      {"k":30,"r":63.4},{"k":31,"r":68.7},{"k":32,"r":70.5},{"k":33,"r":71.8},{"k":34,"r":71.3},{"k":35,"r":63.4},
      {"k":36,"r":64.0},{"k":37,"r":63.4},{"k":38,"r":64.5},{"k":39,"r":58.7},{"k":40,"r":61.9},{"k":41,"r":60.0},
      {"k":42,"r":61.3},{"k":43,"r":59.3},{"k":44,"r":60.8},{"k":45,"r":64.5},{"k":46,"r":64.5},{"k":47,"r":64.5},
      {"k":48,"r":64.0},{"k":49,"r":61.9},{"k":50,"r":64.0},{"k":51,"r":64.5},{"k":52,"r":65.3},{"k":53,"r":61.9},
      {"k":54,"r":62.7},{"k":55,"r":63.4},{"k":56,"r":53.0},{"k":57,"r":50.4},{"k":58,"r":53.5},{"k":59,"r":58.2},
      {"k":60,"r":56.1},{"k":61,"r":57.4},{"k":62,"r":60.0},{"k":63,"r":61.9},{"k":64,"r":63.4},{"k":65,"r":64.5},
      {"k":66,"r":64.5},{"k":67,"r":71.8},{"k":68,"r":73.1},{"k":69,"r":77.0},{"k":70,"r":78.3},{"k":71,"r":80.2},
      {"k":72,"r":82.3},{"k":73,"r":75.7},{"k":74,"r":77.6},{"k":75,"r":77.0},{"k":76,"r":74.9},{"k":77,"r":61.9},
      {"k":78,"r":64.5},{"k":79,"r":64.5},{"k":80,"r":57.4},{"k":81,"r":27.9},{"k":82,"r":27.4},{"k":83,"r":26.9},
      {"k":84,"r":29.5},{"k":85,"r":33.1},{"k":86,"r":32.6},{"k":87,"r":31.3},{"k":88,"r":35.7},{"k":89,"r":41.0},
      {"k":90,"r":41.0},{"k":91,"r":46.2},{"k":92,"r":58.7},{"k":93,"r":63.4},{"k":94,"r":64.5},{"k":95,"r":61.9},
      {"k":96,"r":56.1},{"k":97,"r":56.6},{"k":98,"r":48.8},{"k":99,"r":50.9},{"k":100,"r":49.6},{"k":101,"r":53.0},
      {"k":102,"r":56.1},{"k":103,"r":60.8},{"k":104,"r":60.8},
      {"k":105.4,"r":61.6},{"k":107.9,"r":62.4},{"k":110.4,"r":58.5},{"k":112.9,"r":53.8},{"k":114.6,"r":52.2},
      {"k":115.6,"r":40.4},{"k":116.6,"r":35.0},{"k":117.9,"r":40.4},{"k":119.6,"r":38.1},{"k":121.1,"r":52.2},
      {"k":122.9,"r":56.1},{"k":125.4,"r":61.6},{"k":127.1,"r":58.5},{"k":128.6,"r":52.2},{"k":129.6,"r":47.5},
      {"k":131.1,"r":53.8},{"k":132.9,"r":56.1},{"k":135.4,"r":56.9},{"k":137.1,"r":52.2},{"k":139.1,"r":50.6},
      {"k":141.1,"r":55.3},{"k":142.9,"r":60.0},{"k":144.6,"r":58.5},{"k":146.6,"r":56.9},{"k":148.6,"r":56.9},
      {"k":150.6,"r":54.5},{"k":152.1,"r":54.5},{"k":154.1,"r":56.9},{"k":156.1,"r":58.5},{"k":158.1,"r":60.0},
      {"k":160.1,"r":66.3},{"k":161.6,"r":75.7},{"k":163.1,"r":73.4},{"k":164.6,"r":69.5},{"k":166.1,"r":71.0},
      {"k":168.1,"r":67.9},{"k":170.1,"r":69.5},{"k":171.6,"r":77.3},{"k":172.9,"r":80.4},{"k":174.1,"r":75.7},
      {"k":175.6,"r":74.2},{"k":177.1,"r":71.0},{"k":178.6,"r":75.7},{"k":180.1,"r":71.0},{"k":181.6,"r":64.7},
      {"k":183.1,"r":60.0},{"k":184.6,"r":63.9},{"k":186.6,"r":61.6},{"k":188.6,"r":63.9},{"k":190.4,"r":67.9},
      {"k":192.1,"r":62.4},{"k":193.6,"r":44.4},{"k":195.1,"r":52.2},{"k":196.6,"r":58.5},{"k":198.4,"r":53.8},
      {"k":199.6,"r":53.8},{"k":201.1,"r":56.1},{"k":202.1,"r":40.4},{"k":203.1,"r":16.1},{"k":204.1,"r":14.6},
      {"k":205.1,"r":28.7},{"k":206.1,"r":36.5},{"k":207.1,"r":25.6},{"k":208.1,"r":35.0},{"k":209.1,"r":28.7},
      {"k":210.1,"r":22.4},{"k":211.1,"r":19.3},{"k":212.1,"r":22.4},{"k":213.1,"r":27.1},{"k":214.6,"r":28.7},
      {"k":216.6,"r":31.8},{"k":219.1,"r":36.5},{"k":221.6,"r":38.1},{"k":224.1,"r":39.7},{"k":226.6,"r":39.7},
      {"k":229.1,"r":41.2},{"k":231.6,"r":44.4},{"k":232.9,"r":50.6},{"k":234.6,"r":52.2},{"k":236.6,"r":48.3},
      {"k":238.4,"r":38.1},{"k":239.9,"r":42.8},{"k":241.1,"r":52.2},{"k":242.9,"r":60.0},{"k":244.6,"r":62.4},
      {"k":246.6,"r":63.9},{"k":248.1,"r":61.6},
      {"k":249.1,"r":62.4},{"k":252,"r":60.8},{"k":253.6,"r":62.7},{"k":254.9,"r":61.3},{"k":255.9,"r":50.4},
      {"k":257,"r":58.7},{"k":258.2,"r":59.3},{"k":259.9,"r":56.1},{"k":260.9,"r":58.0},{"k":262,"r":54.0},
      {"k":263.1,"r":58.2},{"k":264.1,"r":58.0},{"k":265.3,"r":56.1},{"k":266.6,"r":54.0},{"k":268.1,"r":46.2},
      {"k":269.1,"r":54.8},{"k":269.9,"r":53.5},{"k":270.9,"r":48.8},{"k":272.9,"r":49.6},{"k":274.1,"r":53.5},
      {"k":275.4,"r":55.6},{"k":276.6,"r":56.1},{"k":277.9,"r":60.6},{"k":279.5,"r":60.0},{"k":280.8,"r":57.4},
      {"k":281.8,"r":58.2},{"k":283.3,"r":52.2},{"k":285,"r":46.2},{"k":286.2,"r":35.2},{"k":287.9,"r":29.5},
      {"k":289.1,"r":35.2},{"k":290.2,"r":39.9},{"k":291.2,"r":39.1},{"k":292,"r":42.5},{"k":293.1,"r":50.1},
      {"k":294.1,"r":51.4},{"k":295.4,"r":52.2},{"k":296.2,"r":50.4},{"k":297,"r":41.0},{"k":297.9,"r":44.4},
      {"k":299,"r":49.6},{"k":300,"r":50.1},{"k":301,"r":46.2},{"k":302,"r":49.67}
    ],
    "s": [
      {"k":1},{"k":31},{"k":61},{"k":91},{"k":121},{"k":151},{"k":181},{"k":211},{"k":241},{"k":271},{"k":301}
    ]
  },
  "vconcat": [
    {
      "width": 1220,
      "height": 564,
      "layer": [
        {
          "data": {"name": "s"},
          "mark": {"type": "rule", "color": "#00004a", "strokeDash": [3, 2], "strokeWidth": 1},
          "encoding": {
            "x": {
              "field": "k", "type": "quantitative",
              "scale": {"domain": [-0.125, 304.875], "nice": false, "zero": false, "padding": 0},
              "axis": {
                "values": [0,12,24,36,48,60,72,84,96,108,120,132,144,156,168,180,192,204,216,228,240,252,264,276,288,300],
                "grid": true, "labels": false, "ticks": false, "domain": false, "title": null,
                "minExtent": 0, "maxExtent": 0
              }
            }
          }
        },
        {
          "data": {"values": [{"p": 158.93}]},
          "mark": {"type": "rule", "color": "#c8c8c8", "strokeWidth": 1},
          "encoding": {
            "x": {"value": 0},
            "x2": {"value": 1220},
            "y": {"field": "p", "type": "quantitative", "scale": {"domain": [154.995, 164.526], "nice": false, "zero": false, "padding": 0}, "title": null}
          }
        },
        {
          "data": {"name": "c"},
          "mark": {"type": "rule", "strokeWidth": 1, "clip": true},
          "encoding": {
            "x": {"field": "k", "type": "quantitative", "title": null, "scale": {"domain": [-0.125, 304.875], "nice": false, "zero": false, "padding": 0}},
            "y": {
              "field": "l", "type": "quantitative",
              "scale": {"domain": [154.995, 164.526], "nice": false, "zero": false, "padding": 0},
              "axis": {
                "orient": "right", "title": null, "format": ".2f",
                "values": [155.35,156.2,157.05,157.9,158.75,159.6,160.45,161.3,162.15,163.0,163.85],
                "grid": true, "domain": false, "tickSize": 3, "labelPadding": 3, "labelOverlap": false
              }
            },
            "y2": {"field": "h"},
            "color": {
              "condition": [
                {"test": "datum.c > datum.o", "value": "#1d8a1d"},
                {"test": "datum.c < datum.o", "value": "#ff4500"}
              ],
              "value": "#000000"
            }
          }
        },
        {
          "data": {"name": "c"},
          "mark": {"type": "bar", "width": 3, "strokeWidth": 0.6, "clip": true},
          "encoding": {
            "x": {"field": "k", "type": "quantitative", "title": null, "scale": {"domain": [-0.125, 304.875], "nice": false, "zero": false, "padding": 0}},
            "y": {"field": "o", "type": "quantitative", "scale": {"domain": [154.995, 164.526], "nice": false, "zero": false, "padding": 0}, "title": null},
            "y2": {"field": "c"},
            "fill": {
              "condition": [
                {"test": "datum.c > datum.o", "value": "#2aa52a"},
                {"test": "datum.c < datum.o", "value": "#ff5212"}
              ],
              "value": "#000000"
            },
            "stroke": {
              "condition": [
                {"test": "datum.c > datum.o", "value": "#157515"},
                {"test": "datum.c < datum.o", "value": "#ff4500"}
              ],
              "value": "#000000"
            }
          }
        },
        {
          "data": {"name": "c"},
          "transform": [{"filter": "datum.o == datum.c"}],
          "mark": {"type": "tick", "orient": "horizontal", "size": 4, "thickness": 1, "color": "#000000", "clip": true},
          "encoding": {
            "x": {"field": "k", "type": "quantitative", "title": null, "scale": {"domain": [-0.125, 304.875], "nice": false, "zero": false, "padding": 0}},
            "y": {"field": "o", "type": "quantitative", "scale": {"domain": [154.995, 164.526], "nice": false, "zero": false, "padding": 0}, "title": null}
          }
        },
        {
          "data": {"name": "b"},
          "mark": {"type": "line", "clip": true, "color": "#3cb371", "strokeWidth": 1},
          "encoding": {
            "x": {"field": "k", "type": "quantitative", "title": null, "scale": {"domain": [-0.125, 304.875], "nice": false, "zero": false, "padding": 0}},
            "y": {"field": "v", "type": "quantitative", "scale": {"domain": [154.995, 164.526], "nice": false, "zero": false, "padding": 0}, "title": null},
            "detail": {"field": "g", "type": "nominal"}
          }
        },
        {
          "data": {"values": [{"t": "▼ USDJPY,H4\u00a0 158.73 158.96 158.71 158.91"}]},
          "mark": {"type": "text", "align": "left", "baseline": "middle", "font": "DejaVu Sans", "fontSize": 11.5, "color": "#000080"},
          "encoding": {
            "x": {"datum": 0.9, "type": "quantitative"},
            "y": {"datum": 164.37, "type": "quantitative"},
            "text": {"field": "t"}
          }
        },
        {
          "data": {"values": [{"t": "158.91"}]},
          "mark": {"type": "rect", "color": "#000080"},
          "encoding": {
            "x": {"datum": 305.1, "type": "quantitative"},
            "x2": {"datum": 318.8},
            "y": {"datum": 159.045, "type": "quantitative"},
            "y2": {"datum": 158.82}
          }
        },
        {
          "data": {"values": [{"t": "158.91"}]},
          "mark": {"type": "text", "align": "center", "baseline": "middle", "font": "DejaVu Sans", "fontSize": 11.5, "color": "#ffffff"},
          "encoding": {
            "x": {"datum": 310.8, "type": "quantitative"},
            "y": {"datum": 158.933, "type": "quantitative"},
            "text": {"field": "t"}
          }
        }
      ]
    },
    {
      "width": 1220,
      "height": 127,
      "layer": [
        {
          "data": {"name": "s"},
          "mark": {"type": "rule", "color": "#00004a", "strokeDash": [3, 2], "strokeWidth": 1},
          "encoding": {
            "x": {
              "field": "k", "type": "quantitative",
              "scale": {"domain": [-0.125, 304.875], "nice": false, "zero": false, "padding": 0},
              "axis": {
                "values": [0,12,24,36,48,60,72,84,96,108,120,132,144,156,168,180,192,204,216,228,240,252,264,276,288,300],
                "labelExpr": "['12 Jun 2026','','18 Jun 20:00','','24 Jun 20:00','','30 Jun 20:00','','6 Jul 20:00','','10 Jul 20:00','','16 Jul 20:00','','22 Jul 20:00','','28 Jul 20:00','','3 Aug 20:00','','7 Aug 20:00','','13 Aug 20:00','','19 Aug 20:00','',''][round(datum.value / 12)]",
                "grid": true, "domain": false, "title": null,
                "labelAlign": "left", "labelFlush": false, "labelOverlap": false,
                "tickSize": 3, "labelPadding": 2,
                "tickOpacity": {"condition": {"test": "datum.value % 24 === 0", "value": 1}, "value": 0}
              }
            }
          }
        },
        {
          "data": {"name": "r"},
          "mark": {"type": "line", "color": "#1e90ff", "strokeWidth": 1},
          "encoding": {
            "x": {"field": "k", "type": "quantitative", "title": null, "scale": {"domain": [-0.125, 304.875], "nice": false, "zero": false, "padding": 0}},
            "y": {
              "field": "r", "type": "quantitative",
              "scale": {"domain": [0, 100], "nice": false, "zero": false},
              "axis": {
                "orient": "right", "title": null, "values": [0, 30, 70, 100],
                "labelFlush": true, "grid": true, "domain": false, "tickSize": 3, "labelPadding": 2,
                "gridOpacity": {"condition": {"test": "datum.value == 30 || datum.value == 70", "value": 1}, "value": 0}
              }
            }
          }
        },
        {
          "data": {"values": [{"t": "RSI(14) 49.6676"}]},
          "mark": {"type": "text", "align": "left", "baseline": "middle", "font": "DejaVu Sans", "fontSize": 11.5, "color": "#000080"},
          "encoding": {
            "x": {"datum": 0.9, "type": "quantitative"},
            "y": {"datum": 91.4, "type": "quantitative"},
            "text": {"field": "t"}
          }
        }
      ]
    }
  ],
  "config": {
    "view": {"stroke": "#000080", "strokeWidth": 1},
    "axis": {
      "labelFont": "DejaVu Sans", "labelFontSize": 11.5, "labelColor": "#000080",
      "tickColor": "#000080", "gridColor": "#d0d0d0", "gridDash": [3, 3], "gridWidth": 1
    }
  }
}
